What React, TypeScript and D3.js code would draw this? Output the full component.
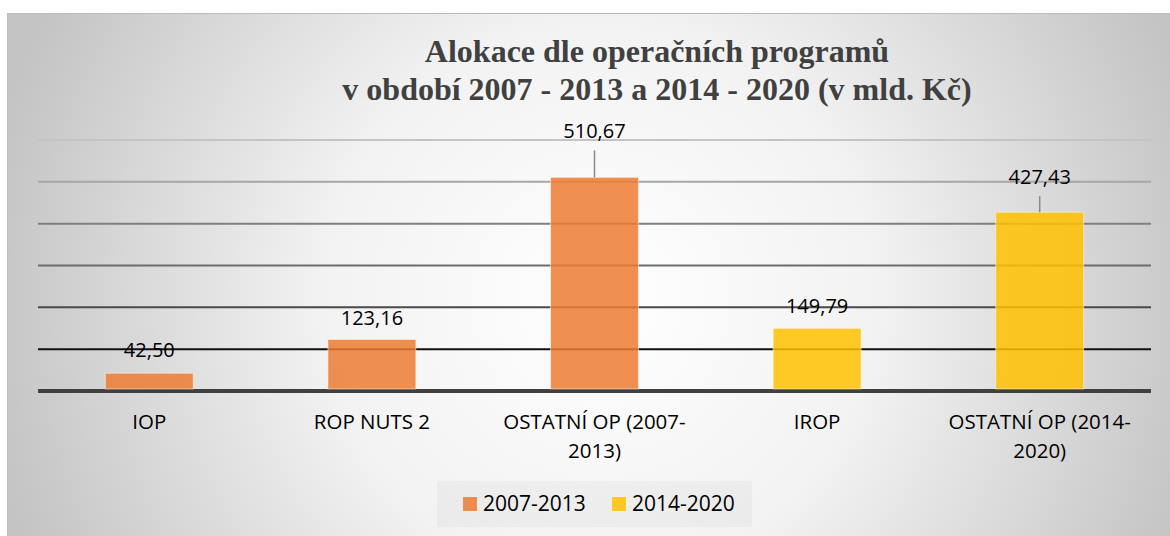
import React from "react";
import * as d3 from "d3";

const categories = ["IOP", "ROP NUTS 2", "OSTATNÍ OP (2007-2013)", "IROP", "OSTATNÍ OP (2014-2020)"];
const values = [42.5, 123.16, 510.67, 149.79, 427.43];
const seriesOf = ["2007-2013", "2007-2013", "2007-2013", "2014-2020", "2014-2020"];
const seriesNames = ["2007-2013", "2014-2020"];
const seriesColors = ["#ED7D31", "#FFC000"];
const gridTicks = [0, 100, 200, 300, 400, 500, 600];
const gridColors = ["#404040", "#111111", "#4a4a4a", "#6d6d6d", "#7f7f7f", "#a6a6a6", "#c4c4c4"];
// label offsets above bar top (manually moved labels with leader lines)
const labelLift = [16, 14, 39, 15, 28];
const leader = [false, false, true, false, true];

const W = 1170;
const H = 536;
const FONT = "'Open Sans', sans-serif";
const SERIF = "'Liberation Serif', 'Times New Roman', serif";

function wrap(label: string): string[] {
  if (label.length <= 12) return [label];
  const i = label.lastIndexOf("-");
  return [label.slice(0, i + 1), label.slice(i + 1)];
}

export default function App() {
  const x = d3.scaleBand<string>().domain(categories).range([38, 1151]).paddingInner(0.605).paddingOuter(0.3025);
  const y = d3.scaleLinear().domain([0, 600]).range([391, 140]);
  const color = d3.scaleOrdinal<string, string>().domain(seriesNames).range(seriesColors);

  return (
    <svg width={W} height={H} style={{ position: "absolute", left: 0, top: 0 }} fontFamily={FONT}>
      <defs>
        <radialGradient id="bg" gradientUnits="userSpaceOnUse" cx={600} cy={300} r={620}>
          <stop offset="0" stopColor="#ffffff" />
          <stop offset="0.45" stopColor="#f2f2f2" />
          <stop offset="1" stopColor="#c4c4c4" />
        </radialGradient>
      </defs>
      <rect x={0} y={0} width={W} height={H} fill="#ffffff" />
      <rect x={7.5} y={13.5} width={W} height={H} fill="url(#bg)" stroke="#bdbdbd" strokeWidth={1} />

      <text x={657} y={62} textAnchor="middle" fontFamily={SERIF} fontWeight="bold" fontSize={32} fill="#404040">
        Alokace dle operačních programů
      </text>
      <text x={657} y={100} textAnchor="middle" fontFamily={SERIF} fontWeight="bold" fontSize={32} fill="#404040">
        v období 2007 - 2013 a 2014 - 2020 (v mld. Kč)
      </text>

      {gridTicks.map((t, i) => (
        <line key={t} x1={38} x2={1151} y1={y(t)} y2={y(t)} stroke={gridColors[i]} strokeWidth={t === 0 ? 4 : 2} />
      ))}

      {categories.map((c, i) => (
        <rect
          key={c}
          x={x(c)}
          y={y(values[i])}
          width={x.bandwidth()}
          height={y(0) - 2 - y(values[i])}
          fill={color(seriesOf[i])}
          fillOpacity={0.85}
          stroke="#ffffff"
          strokeOpacity={0.5}
          strokeWidth={1}
        />
      ))}

      {categories.map((c, i) => {
        const cx = (x(c) as number) + x.bandwidth() / 2;
        const ly = y(values[i]) - labelLift[i];
        return (
          <g key={c}>
            {leader[i] && (
              <line x1={cx} x2={cx} y1={ly + 12} y2={y(values[i])} stroke="#8a8a8a" strokeWidth={1.5} />
            )}
            <text x={cx} y={ly} textAnchor="middle" fontSize={20} fill="#000">
              {values[i].toFixed(2).replace(".", ",")}
            </text>
          </g>
        );
      })}

      {categories.map((c) => {
        const cx = (x(c) as number) + x.bandwidth() / 2;
        return (
          <text key={c} x={cx} y={429} textAnchor="middle" fontSize={20.5} fill="#000">
            {wrap(c).map((l, j) => (
              <tspan key={j} x={cx} dy={j === 0 ? 0 : 29}>
                {l}
              </tspan>
            ))}
          </text>
        );
      })}

      <rect x={437} y={481} width={315} height={46} fill="#000" fillOpacity={0.03} />
      {seriesNames.map((s, i) => {
        const lx = [463, 612][i];
        return (
          <g key={s}>
            <rect x={lx} y={497} width={14} height={14} fill={color(s)} fillOpacity={0.85} />
            <text x={lx + 20} y={511} fontSize={21} fill="#000">
              {s}
            </text>
          </g>
        );
      })}
    </svg>
  );
}
